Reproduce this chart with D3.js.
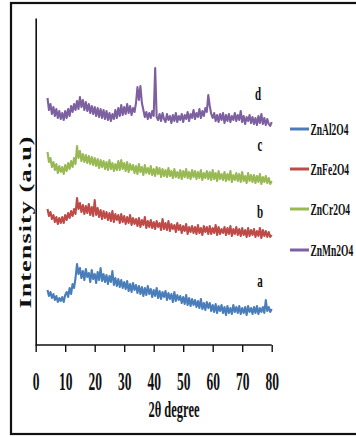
<!DOCTYPE html>
<html><head><meta charset="utf-8">
<script src="https://cdn.jsdelivr.net/npm/d3@7"></script>
<style>html,body{margin:0;padding:0;background:#fff;overflow:hidden}</style>
</head><body><svg id="c" width="356" height="437"></svg>
<script>
// 2θ sampling grid (degrees), 4.0 .. 80.0 every 0.5
const twoTheta = d3.range(4, 80.001, 0.5);
const xTicks = [0, 10, 20, 30, 40, 50, 60, 70, 80];
const seriesNames = ["ZnAl2O4", "ZnFe2O4", "ZnCr2O4", "ZnMn2O4"];
const seriesLetters = ["a", "b", "c", "d"];
const seriesColors = ["#4A7EBB", "#BE4B48", "#98B954", "#7D60A0"];

// intensities (a.u., stacked offsets as drawn)
const znAl2O4 = [
55,49,53,47,51,45,49,43,47,44, 48,43,50,53,48,57,51,61,57,67,
81,71,77,67,74,65,76,68,72,63, 75,66,71,62,73,65,77,64,71,63,
70,61,69,63,74,60,67,59,66,58, 65,57,63,56,64,54,61,53,62,55,
60,52,59,51,58,49,57,50,59,51, 56,48,55,49,57,47,54,46,53,48,
54,45,52,46,51,43,53,44,50,45, 49,42,48,41,50,40,47,39,46,40,
45,38,44,37,46,36,42,35,43,37, 42,34,40,33,41,32,39,34,40,32,
38,30,39,32,37,31,40,33,38,32, 39,31,37,32,38,30,39,33,37,31,
38,32,39,31,37,33,38,32,45,34, 38,33,36];
const znFe2O4 = [
136,129,133,126,130,123,128,121,127,122, 128,122,130,125,132,127,134,129,136,131,
147,136,142,133,140,131,139,132,141,130, 138,129,145,130,137,128,135,126,134,127,
133,125,132,124,134,123,131,125,130,122, 131,123,129,121,128,122,130,120,127,121,
126,119,127,118,125,120,128,117,124,118, 125,117,123,116,124,118,122,115,126,116,
122,115,124,114,121,116,120,113,122,115, 120,112,119,114,121,111,118,113,119,112,
118,111,120,112,117,110,119,113,118,111, 119,111,117,112,120,110,118,111,116,112,
118,110,117,111,119,109,116,111,118,110, 116,109,117,110,115,108,117,109,115,110,
116,108,114,109,117,107,115,109,114,108, 113,108,110];
const znCr2O4 = [
193,183,187,178,183,175,181,172,179,173, 178,171,180,174,182,176,184,178,187,181,
199,187,194,184,191,183,190,182,189,181, 188,180,187,179,186,177,185,178,184,176,
183,175,185,176,182,174,181,175,184,175, 185,176,182,174,183,173,181,175,180,172,
179,171,181,173,178,170,180,172,177,171, 179,170,176,169,178,171,177,168,176,169,
175,168,177,169,174,167,176,168,173,167, 175,166,174,168,176,167,173,166,175,168,
174,166,173,167,175,165,172,167,174,166, 173,165,175,166,172,164,174,166,171,165,
173,164,171,165,174,163,170,165,172,164, 171,163,173,164,169,162,172,164,170,163,
170,162,169,163,171,161,168,163,169,162, 167,161,164];
const znMn2O4 = [
247,235,241,231,238,229,236,227,234,226, 232,225,234,227,236,229,239,233,241,235,
244,236,248,238,245,235,243,234,241,232, 239,231,238,229,237,228,236,227,235,226,
234,225,232,224,231,226,235,227,237,229, 240,230,238,231,241,232,239,230,237,233,
242,258,245,259,242,235,228,233,226,232, 227,234,229,277,228,225,231,224,232,226,
223,231,225,229,222,230,224,232,223,229, 225,231,223,230,226,233,224,231,227,235,
226,232,228,236,227,234,229,237,233,250, 239,231,227,232,224,230,223,231,225,232,
222,230,224,231,223,229,225,232,224,230, 225,234,223,229,221,228,224,230,222,228,
221,227,220,229,222,231,221,227,220,226, 221,219,223];
const seriesValues = [znAl2O4, znFe2O4, znCr2O4, znMn2O4];

const svg = d3.select("#c");
const FONT = "'Liberation Serif', 'Times New Roman', serif";
const SY = 1.8; // vertical stretch of the original image text

// outer frame
svg.append("rect").attr("x", 11).attr("y", 3).attr("width", 360).attr("height", 431)
  .attr("fill", "none").attr("stroke", "#111").attr("stroke-width", 2.2);

const x = d3.scaleLinear().domain([0, 80]).range([35.7, 271.7]);
const y = d3.scaleLinear().domain([0, 327]).range([345, 18]);

// series
const line = d3.line().x((d, i) => x(twoTheta[i])).y(d => y(d));
seriesValues.forEach((vals, k) => {
  svg.append("path").datum(vals).attr("d", line)
    .attr("fill", "none").attr("stroke", seriesColors[k])
    .attr("stroke-width", 2.1).attr("stroke-linejoin", "round");
});

// x axis
const xAxis = d3.axisBottom(x).tickValues(xTicks).tickSize(7).tickFormat("");
const gx = svg.append("g").attr("transform", `translate(0,${y(0)})`).call(xAxis);
gx.select(".domain").attr("stroke", "#111").attr("stroke-width", 1.6).attr("d", `M${x(0)},0H${x(80)}`);
gx.selectAll(".tick line").attr("stroke", "#111").attr("stroke-width", 1.4);
gx.selectAll(".tick").append("text")
  .attr("transform", `translate(0,45) scale(1,${SY})`)
  .attr("text-anchor", "middle").attr("fill", "#111")
  .style("font-family", FONT).style("font-weight", "bold").style("font-size", "13.5px")
  .text(d => d);

// y axis (line only)
const yAxis = d3.axisLeft(y).tickValues([]).tickSizeOuter(0);
const gy = svg.append("g").attr("transform", `translate(${x(0)},0)`).call(yAxis);
gy.select(".domain").attr("stroke", "#111").attr("stroke-width", 1.6);

// axis titles
svg.append("text").attr("transform", `translate(174,417) scale(1,${SY})`)
  .attr("text-anchor", "middle").attr("fill", "#111")
  .style("font-family", FONT).style("font-weight", "bold").style("font-size", "12.5px")
  .text("2θ degree");
svg.append("text").attr("transform", `translate(26,222) rotate(-90) scale(1.65,1)`)
  .attr("text-anchor", "middle").attr("dominant-baseline", "central").attr("fill", "#111")
  .style("font-family", FONT).style("font-weight", "bold").style("font-size", "16px")
  .style("letter-spacing", "0.6px")
  .text("Intensity (a.u)");

// series letters
const letterPos = [[260, 287], [260, 218], [260, 151], [258, 100]];
seriesLetters.forEach((t, k) => {
  svg.append("text").attr("transform", `translate(${letterPos[k][0]},${letterPos[k][1]}) scale(1,${SY})`)
    .attr("text-anchor", "middle").attr("fill", "#111")
    .style("font-family", FONT).style("font-weight", "bold").style("font-size", "11px")
    .text(t);
});

// legend
const legY = [129, 169, 209, 250];
seriesNames.forEach((n, k) => {
  svg.append("line").attr("x1", 290).attr("x2", 309).attr("y1", legY[k]).attr("y2", legY[k])
    .attr("stroke", seriesColors[k]).attr("stroke-width", 3);
  svg.append("text").attr("transform", `translate(310.5,${legY[k] + 5.5}) scale(1,${SY})`)
    .attr("fill", "#111")
    .style("font-family", FONT).style("font-weight", "bold").style("font-size", "9.5px")
    .text(n);
});
</script></body></html>
